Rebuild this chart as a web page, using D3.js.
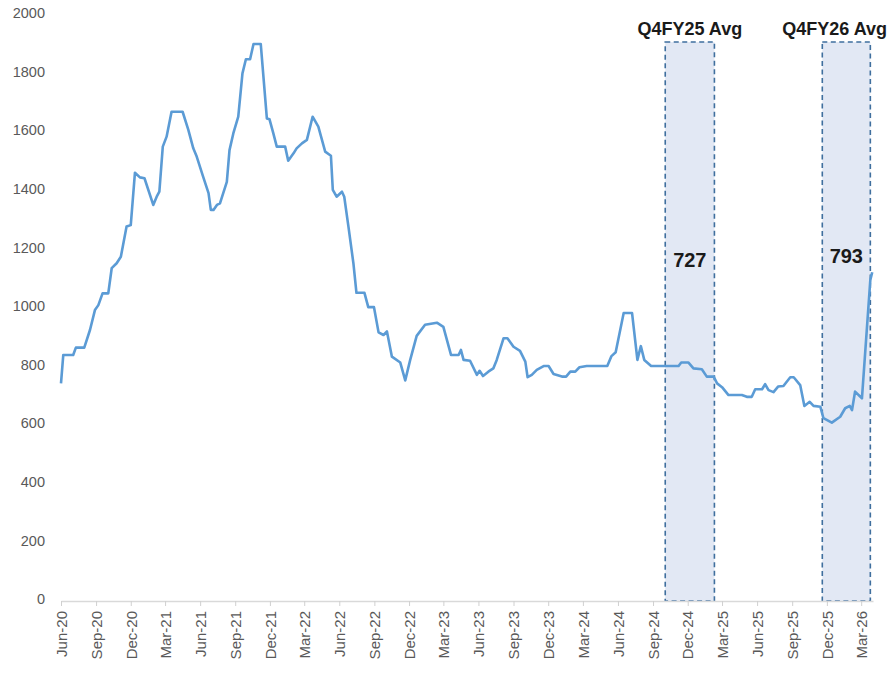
<!DOCTYPE html>
<html>
<head>
<meta charset="utf-8">
<script src="https://cdn.jsdelivr.net/npm/d3@7"></script>
<style>
  body { margin: 0; background: #fff; }
  svg { display: block; font-family: "Liberation Sans", Arial, sans-serif; }
</style>
</head>
<body>
<div id="chart"></div>
<script>
// weekly-ish readings
const dates = [
  "2020-06-01","2020-06-07","2020-07-03","2020-07-10","2020-08-01","2020-08-16","2020-08-29","2020-09-07",
  "2020-09-18","2020-10-03","2020-10-12","2020-10-25","2020-11-05","2020-11-20","2020-12-01","2020-12-12",
  "2020-12-25","2021-01-06","2021-01-29","2021-02-07","2021-02-14","2021-02-23","2021-03-05","2021-03-18",
  "2021-04-16","2021-05-01","2021-05-14","2021-05-23","2021-06-09","2021-06-23","2021-06-29","2021-07-06",
  "2021-07-15","2021-07-23","2021-08-10","2021-08-17","2021-08-27","2021-09-09","2021-09-20","2021-09-29",
  "2021-10-10","2021-10-19","2021-11-07","2021-11-23","2021-11-30","2021-12-10","2021-12-19","2022-01-10",
  "2022-01-18","2022-02-01","2022-02-09","2022-02-23","2022-03-08","2022-03-23","2022-04-07","2022-04-25",
  "2022-05-10","2022-05-15","2022-05-25","2022-06-08","2022-06-14","2022-06-25","2022-07-08","2022-07-16",
  "2022-08-06","2022-08-16","2022-08-31","2022-09-12","2022-09-25","2022-10-04","2022-10-17","2022-11-08",
  "2022-11-21","2022-12-04","2022-12-21","2023-01-12","2023-02-12","2023-03-01","2023-03-21","2023-04-10",
  "2023-04-16","2023-04-23","2023-05-10","2023-05-28","2023-06-04","2023-06-13","2023-06-27","2023-07-10",
  "2023-07-19","2023-08-06","2023-08-16","2023-09-01","2023-09-18","2023-10-02","2023-10-08","2023-10-19",
  "2023-11-01","2023-11-19","2023-12-02","2023-12-15","2024-01-06","2024-01-17","2024-01-28","2024-02-10",
  "2024-02-21","2024-03-11","2024-05-04","2024-05-15","2024-05-26","2024-06-16","2024-07-08","2024-07-22",
  "2024-07-31","2024-08-09","2024-08-27","2024-11-07","2024-11-14","2024-12-03","2024-12-16","2025-01-07",
  "2025-01-20","2025-02-07","2025-02-16","2025-03-01","2025-03-18","2025-04-22","2025-05-05","2025-05-18",
  "2025-05-27","2025-06-14","2025-06-22","2025-07-01","2025-07-14","2025-07-26","2025-08-09","2025-08-27",
  "2025-09-05","2025-09-22","2025-10-03","2025-10-17","2025-10-27","2025-11-14","2025-11-22","2025-12-14",
  "2026-01-05","2026-01-18","2026-01-30","2026-02-05","2026-02-13","2026-03-03","2026-03-25","2026-03-30"
];
const values = [
  736, 833, 833, 858, 858, 918, 986, 1003,
  1043, 1043, 1129, 1146, 1168, 1271, 1276, 1455,
  1439, 1436, 1345, 1373, 1390, 1544, 1578, 1663,
  1663, 1601, 1538, 1510, 1441, 1385, 1328, 1328,
  1345, 1350, 1424, 1532, 1589, 1646, 1794, 1842,
  1842, 1894, 1894, 1640, 1637, 1589, 1544, 1544,
  1496, 1521, 1538, 1555, 1567, 1646, 1612, 1527,
  1513, 1396, 1373, 1390, 1373, 1271, 1146, 1045,
  1045, 996, 996, 910, 901, 913, 827, 807,
  746, 816, 898, 936, 943, 929, 833, 833,
  850, 816, 813, 765, 779, 761, 776, 787,
  816, 890, 890, 861, 847, 810, 757, 765,
  782, 795, 795, 768, 759, 759, 776, 776,
  791, 795, 795, 829, 842, 976, 976, 816,
  863, 816, 795, 795, 807, 807, 787, 784,
  759, 759, 736, 723, 696, 696, 690, 690,
  716, 716, 733, 713, 706, 725, 727, 757,
  757, 730, 659, 673, 659, 656, 617, 602,
  622, 651, 659, 645, 708, 685, 1089, 1115
];

// highlighted quarters
const bandLabels = ["Q4FY25 Avg", "Q4FY26 Avg"];
const bandStarts = ["2024-10-03", "2025-11-19"];
const bandEnds = ["2025-02-09", "2026-03-25"];
const bandAvgs = [727, 793];

const yTicks = [0, 200, 400, 600, 800, 1000, 1200, 1400, 1600, 1800, 2000];

const W = 888, H = 673;
const parse = d3.timeParse("%Y-%m-%d");
const series = dates.map((d, i) => ({ date: parse(d), value: values[i] }));
const bands = bandLabels.map((l, i) => ({
  label: l, start: parse(bandStarts[i]), end: parse(bandEnds[i]), avg: bandAvgs[i]
}));

const x = d3.scaleTime()
  .domain([parse("2020-06-01"), parse("2026-04-01")])
  .range([61, 873]);
const y = d3.scaleLinear()
  .domain([0, 2000])
  .range([599, 13]);

const svg = d3.select("#chart").append("svg")
  .attr("width", W)
  .attr("height", H);

// shaded bands behind the line
const band = svg.selectAll(".band")
  .data(bands)
  .enter().append("g")
    .attr("class", "band");

band.append("rect")
  .attr("x", d => x(d.start))
  .attr("y", 42)
  .attr("width", d => x(d.end) - x(d.start))
  .attr("height", y(0) + 2 - 42)
  .attr("fill", "#e2e8f4")
  .attr("stroke", "#3f6f9e")
  .attr("stroke-width", 1.6)
  .attr("stroke-dasharray", "5,3.5");

band.append("text")
  .attr("class", "band-title")
  .attr("x", d => (x(d.start) + x(d.end)) / 2)
  .attr("y", 35)
  .attr("text-anchor", "middle")
  .style("font-size", "18px")
  .style("font-weight", "bold")
  .attr("fill", "#1a1a1a")
  .text(d => d.label);

// keep the titles inside the picture
svg.selectAll(".band-title").each(function() {
  const w = this.getComputedTextLength();
  const cx = +this.getAttribute("x");
  if (cx + w / 2 > W - 1) this.setAttribute("x", W - 1 - w / 2);
});

band.append("text")
  .attr("x", d => (x(d.start) + x(d.end)) / 2)
  .attr("y", (d, i) => i === 0 ? 267 : 263)
  .attr("text-anchor", "middle")
  .style("font-size", "20px")
  .style("font-weight", "bold")
  .attr("fill", "#1a1a1a")
  .text(d => d.avg);

// x axis
const xTicks = d3.timeMonth.range(parse("2020-06-01"), parse("2026-03-02"), 3);
const xAxis = svg.append("g")
  .attr("transform", `translate(0,${y(0) + 2})`)
  .call(d3.axisBottom(x).tickValues(xTicks).tickFormat(d3.timeFormat("%b-%y")).tickSize(5).tickSizeOuter(0));
xAxis.select(".domain").attr("stroke", "#d9d9d9").attr("stroke-width", 1.5);
xAxis.selectAll(".tick line").attr("stroke", "#d0d0d0");
xAxis.selectAll("text")
  .attr("fill", "#595959")
  .style("font-size", "15px")
  .style("font-family", "Liberation Sans, Arial, sans-serif")
  .style("text-anchor", "end")
  .attr("transform", "rotate(-90)")
  .attr("x", -10)
  .attr("y", 0)
  .attr("dy", "0.35em");

// y axis labels only
const yAxis = svg.append("g")
  .attr("transform", "translate(45,0)")
  .call(d3.axisLeft(y).tickValues(yTicks).tickFormat(d3.format("d")).tickSize(0).tickPadding(0));
yAxis.select(".domain").remove();
yAxis.selectAll("text")
  .attr("fill", "#595959")
  .style("font-size", "14.5px")
  .style("font-family", "Liberation Sans, Arial, sans-serif");

// the series line
const line = d3.line()
  .x(d => x(d.date))
  .y(d => y(d.value));

svg.append("path")
  .datum(series)
  .attr("fill", "none")
  .attr("stroke", "#5b9bd5")
  .attr("stroke-width", 2.6)
  .attr("stroke-linejoin", "round")
  .attr("d", line);
</script>
</body>
</html>
